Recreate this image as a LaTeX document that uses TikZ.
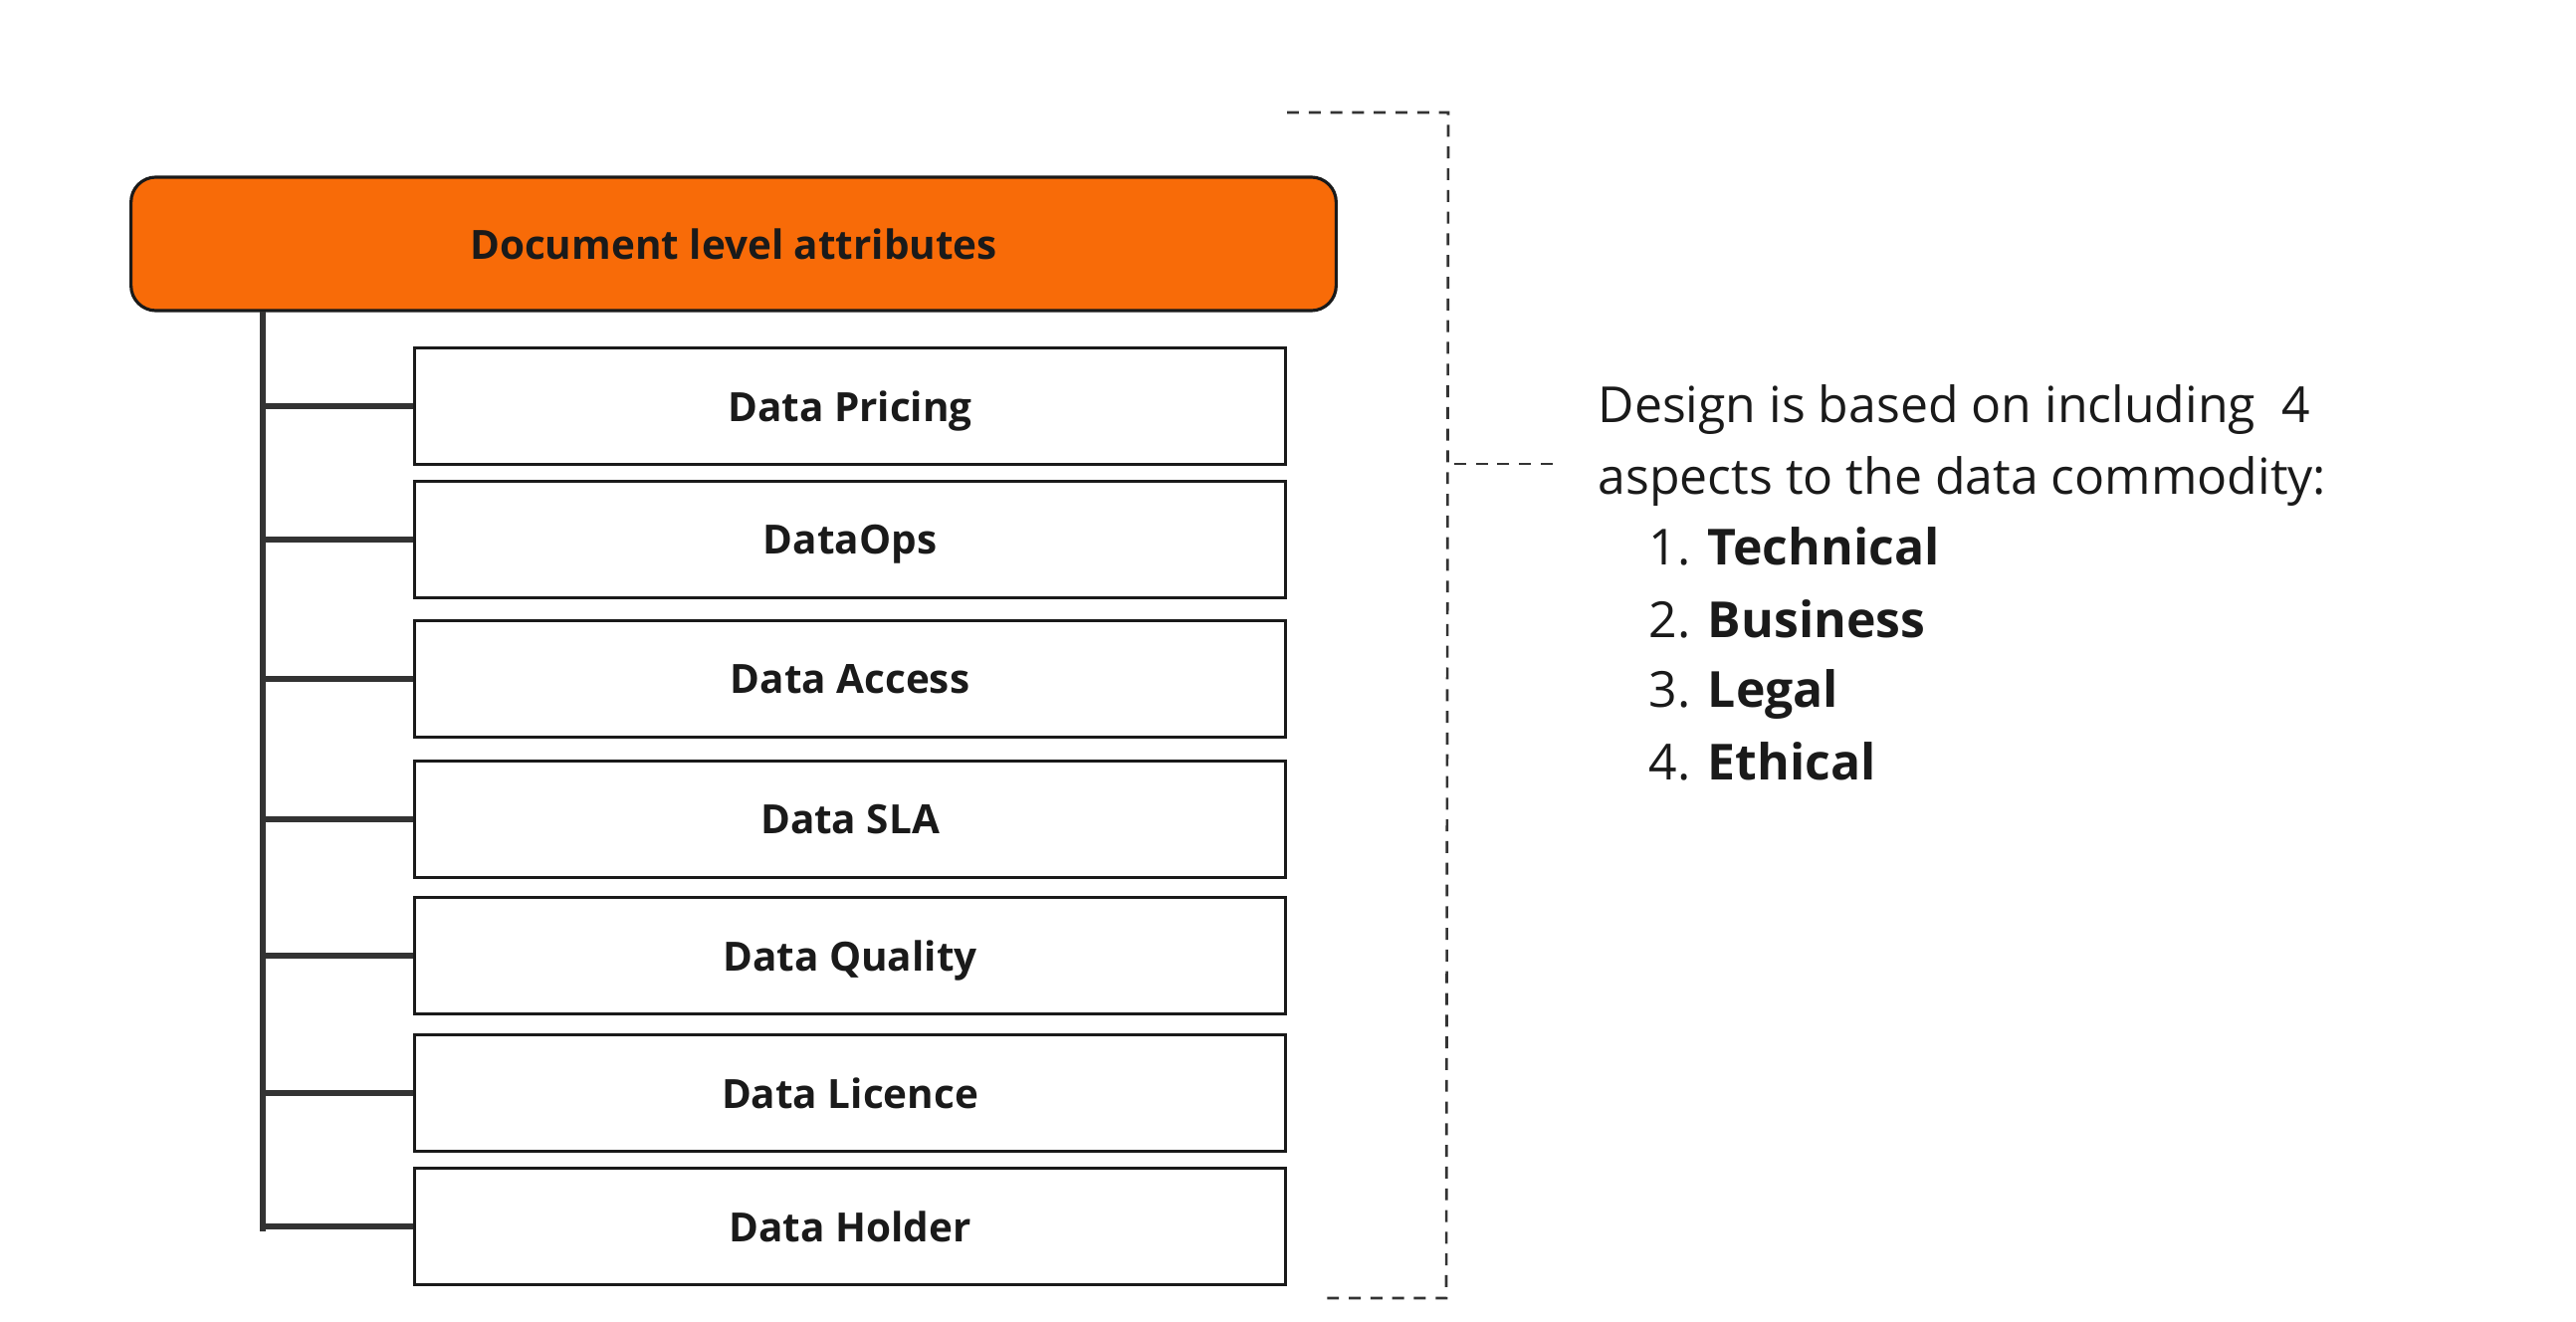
\documentclass[tikz,border=0pt]{standalone}
\usepackage{fontspec}
\setmainfont{Open Sans}
\usepackage{tikz}
\usetikzlibrary{positioning}
\definecolor{hdrorange}{HTML}{F86B08}
\definecolor{ink}{HTML}{1A1A1A}
\definecolor{wire}{HTML}{333333}

\begin{document}
\begin{tikzpicture}[x=0.01cm,y=-0.01cm,
  attr/.style={draw=ink,line width=0.8pt,minimum width=8.74cm,minimum height=1.17cm,inner sep=0pt,text depth=0pt,font=\fontsize{11.5}{13}\selectfont\bfseries,text=ink},
  branch/.style={draw=wire,line width=1.6pt},
  guide/.style={draw=wire,line width=0.75pt,dash pattern=on 3.4pt off 2.8pt},
  note/.style={anchor=base west,inner sep=0pt,font=\fontsize{14.2}{17}\selectfont,text=ink}]
\useasboundingbox (0,0) rectangle (2588,1328);
\node[draw=ink,line width=0.9pt,rounded corners=0.25cm,fill=hdrorange,minimum width=12.1cm,minimum height=1.34cm,text depth=0pt,font=\fontsize{11.5}{13}\selectfont\bfseries,text=ink] (hdr) at (737,245) {Document level attributes};
\node[attr] (pricing) at (854,408) {Data Pricing};
\node[attr] (dataops) at (854,542) {DataOps};
\node[attr] (access) at (854,682) {Data Access};
\node[attr] (sla) at (854,823) {Data SLA};
\node[attr] (quality) at (854,960) {Data Quality};
\node[attr] (licence) at (854,1098) {Data Licence};
\node[attr] (holder) at (854,1232) {Data Holder};
% tree trunk and branches
\coordinate (trunk) at (264,313);
\coordinate (foot) at (264,1237);
\draw[branch] (trunk) -- (foot);
\draw[branch] (pricing.west) -- (pricing.west -| trunk);
\draw[branch] (dataops.west) -- (dataops.west -| trunk);
\draw[branch] (access.west) -- (access.west -| trunk);
\draw[branch] (sla.west) -- (sla.west -| trunk);
\draw[branch] (quality.west) -- (quality.west -| trunk);
\draw[branch] (licence.west) -- (licence.west -| trunk);
\draw[branch] (holder.west) -- (holder.west -| trunk);
% bracket
\coordinate (btop) at (1293,113);
\coordinate (bbot) at (1328,1304);
\coordinate (tick) at (1560,466);
\draw[guide] (btop) -- (1455,113) -- (1453,1304) -- (bbot);
\draw[guide] (tick) -- (1460,466);
% aspects text
\node[note] (design) at (1605,425) {Design is based on including\ \ 4};
\node[note] (commodity) at (1605,497) {aspects to the data commodity:};
\node[note] (technical) at (1656,568) {1. \textbf{Technical}};
\node[note] (business) at (1656,640) {2. \textbf{Business}};
\node[note] (legal) at (1656,711) {3. \textbf{Legal}};
\node[note] (ethical) at (1656,783) {4. \textbf{Ethical}};
\end{tikzpicture}
\end{document}
